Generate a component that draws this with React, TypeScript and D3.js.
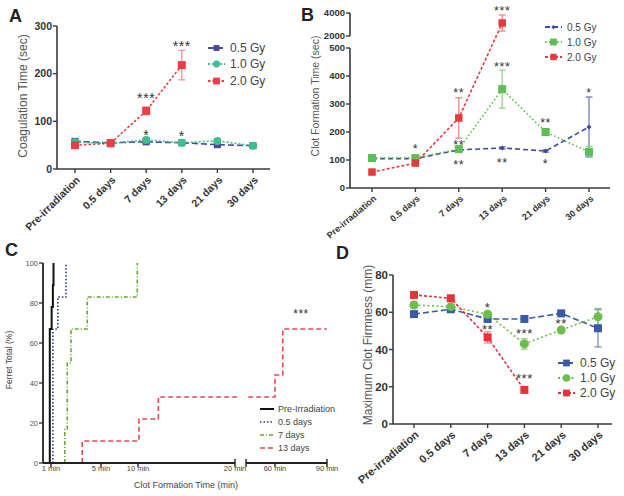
import React from "react";
import * as d3 from "d3";

// ---------- shared categories ----------
const categories = ["Pre-irradiation", "0.5 days", "7 days", "13 days", "21 days", "30 days"];
const doseLabels = ["0.5 Gy", "1.0 Gy", "2.0 Gy"];

// ---------- Panel A: Coagulation time (sec) ----------
const coagA05 = [58, 55, 57, 55, 51, 49];
const coagA10 = [56, 54, 61, 55, 59, 49];
const coagA20 = [50, 54, 122, 218, null, null];
const coagErr05 = [3, 2, 3, 2, 3, 2];
const coagErr10 = [3, 2, 4, 2, 4, 2];
const coagErr20 = [3, 3, 8, 31, 0, 0];
const yTicksA = [0, 100, 200, 300];
const starsA = [
  { cat: "7 days", v: 155, t: "***" },
  { cat: "13 days", v: 264, t: "***" },
  { cat: "7 days", v: 78, t: "*" },
  { cat: "13 days", v: 76, t: "*" },
];

// ---------- Panel B: Clot formation time (sec) ----------
const cftB05 = [105, 105, 136, 143, 132, 218];
const cftB10 = [107, 107, 139, 353, 200, 129];
const cftB20 = [57, 89, 250, 3130, null, null];
const cftErr05 = [3, 3, 4, 4, 4, 107];
const cftErr10 = [4, 4, 8, 68, 6, 20];
const cftErr20 = [4, 5, 72, 700, 0, 0];
const yTicksBLow = [0, 100, 200, 300, 400, 500];
const yTicksBHigh = [2000, 4000];
const starsB = [
  { cat: "0.5 days", v: 150, t: "*" },
  { cat: "7 days", v: 350, t: "**" },
  { cat: "7 days", v: 164, t: "**" },
  { cat: "7 days", v: 93, t: "**" },
  { cat: "13 days", v: 4500, t: "***" },
  { cat: "13 days", v: 443, t: "***" },
  { cat: "13 days", v: 100, t: "**" },
  { cat: "21 days", v: 243, t: "**" },
  { cat: "21 days", v: 96, t: "*" },
  { cat: "30 days", v: 350, t: "*" },
];

// ---------- Panel C: Kaplan-Meier style steps (minutes, % ferrets) ----------
const survLabels = ["Pre-Irradiation", "0.5 days", "7 days", "13 days"];
const stepsPre: [number, number][] = [[0.85, 0], [0.85, 67], [1.05, 78], [1.15, 89], [1.2, 100]];
const steps05: [number, number][] = [[1.15, 0], [1.15, 67], [1.55, 83], [2.2, 100]];
const steps7: [number, number][] = [[2.1, 0], [2.1, 17], [2.3, 50], [2.6, 67], [3.9, 83], [9.9, 100]];
const steps13: [number, number][] = [[3.5, 0], [3.5, 11], [10.1, 22], [12.1, 33], [60, 44], [64.5, 67], [90, 67]];
const yTicksC = [0, 20, 40, 60, 80, 100];
const xTicksC1 = [1, 5, 10, 20];
const xTicksC2 = [60, 90];
const starsC = [{ t: 75, v: 76, s: "***" }];

// ---------- Panel D: Maximum clot firmness (mm) ----------
const mcfD05 = [59, 61.6, 56.4, 56.4, 59.4, 51.4];
const mcfD10 = [63.9, 63, 58.9, 43, 50.5, 57.6];
const mcfD20 = [69.3, 67.5, 46.5, 18.3, null, null];
const mcfErr05 = [1.5, 1, 1.5, 1, 1, 10];
const mcfErr10 = [1.5, 1, 1.5, 2.8, 1, 4.5];
const mcfErr20 = [1, 1, 3, 1, 0, 0];
const yTicksD = [0, 20, 40, 60, 80];
const starsD = [
  { cat: "7 days", v: 64, t: "*" },
  { cat: "7 days", v: 52.6, t: "**" },
  { cat: "13 days", v: 50, t: "***" },
  { cat: "13 days", v: 26.3, t: "***" },
  { cat: "21 days", v: 55.5, t: "**" },
];

const FONT = "'Liberation Sans', Arial, Helvetica, sans-serif";

type Series = {
  values: (number | null)[];
  err: number[];
  color: string;
  errColor: string;
  dash: string;
  marker: "square" | "circle" | "dot";
  size: number;
  label: string;
};

function Marker({ kind, cx, cy, size, color }: { kind: string; cx: number; cy: number; size: number; color: string }) {
  if (kind === "circle") return <circle cx={cx} cy={cy} r={size / 2} fill={color} />;
  if (kind === "dot")
    return <path d={`M${cx},${cy - size / 2}L${cx + size / 2},${cy}L${cx},${cy + size / 2}L${cx - size / 2},${cy}Z`} fill={color} />;
  return <rect x={cx - size / 2} y={cy - size / 2} width={size} height={size} fill={color} />;
}

type CatCfg = {
  axisX: number;
  xEnd: number;
  yBase: number;
  xRange: [number, number];
  y: (v: number) => number;
  ySegments: [number, number][];
  yTicks: number[];
  tickFont: number;
  xFont: number;
  xAngle: number;
  title: string;
  titleX: number;
  titleY: number;
  titleFont: number;
  series: Series[];
  stars: { cat: string; v: number; t: string }[];
  starFont: number;
  legendX: number;
  legendYs: number[];
  legendFont: number;
  letter: string;
  letterX: number;
  letterY: number;
};

function CatPanel({ c }: { c: CatCfg }) {
  const x = d3.scalePoint<string>().domain(categories).range(c.xRange);
  const axisColor = "#3a3a3a";
  return (
    <g fontFamily={FONT}>
      <text x={c.letterX} y={c.letterY} fontSize={18} fontWeight="bold" fill="#222">{c.letter}</text>
      {/* y axis */}
      {c.ySegments.map((s, i) => (
        <line key={"ys" + i} x1={c.axisX} x2={c.axisX} y1={c.y(s[0])} y2={c.y(s[1])} stroke={axisColor} strokeWidth={1.6} />
      ))}
      {c.yTicks.map((t) => (
        <g key={"yt" + t}>
          <line x1={c.axisX - 4} x2={c.axisX} y1={c.y(t)} y2={c.y(t)} stroke={axisColor} strokeWidth={1.4} />
          <text x={c.axisX - 5} y={c.y(t)} dy="0.35em" textAnchor="end" fontSize={c.tickFont} fontWeight="bold" fill="#333">{t}</text>
        </g>
      ))}
      {/* x axis */}
      <line x1={c.axisX} x2={c.xEnd} y1={c.yBase} y2={c.yBase} stroke={axisColor} strokeWidth={1.6} />
      {categories.map((cat) => (
        <g key={"xt" + cat}>
          <line x1={x(cat)} x2={x(cat)} y1={c.yBase} y2={c.yBase + 4} stroke={axisColor} strokeWidth={1.4} />
          <text
            transform={`translate(${(x(cat) as number) + 3},${c.yBase + 9}) rotate(${c.xAngle})`}
            textAnchor="end"
            dy="0.35em"
            fontSize={c.xFont}
            fontWeight="bold"
            fill="#333"
          >
            {cat}
          </text>
        </g>
      ))}
      {/* y title */}
      <text transform={`translate(${c.titleX},${c.titleY}) rotate(-90)`} textAnchor="middle" dy="0.35em" fontSize={c.titleFont} fill="#555">
        {c.title}
      </text>
      {/* series lines */}
      {c.series.map((s, si) => {
        const pts = s.values.map((v, i) => ({ v, cat: categories[i] }));
        const line = d3
          .line<{ v: number | null; cat: string }>()
          .defined((d) => d.v != null)
          .x((d) => x(d.cat) as number)
          .y((d) => c.y(d.v as number));
        return <path key={"l" + si} d={line(pts) || ""} fill="none" stroke={s.color} strokeWidth={1.6} strokeDasharray={s.dash} />;
      })}
      {/* error bars */}
      {c.series.map((s, si) =>
        s.values.map((v, i) => {
          if (v == null || !s.err[i]) return null;
          const cx = x(categories[i]) as number;
          const y1 = c.y(v + s.err[i]);
          const y2 = c.y(v - s.err[i]);
          return (
            <g key={"e" + si + "-" + i} stroke={s.errColor} strokeWidth={1.2}>
              <line x1={cx} x2={cx} y1={y1} y2={y2} />
              <line x1={cx - 3.5} x2={cx + 3.5} y1={y1} y2={y1} />
              <line x1={cx - 3.5} x2={cx + 3.5} y1={y2} y2={y2} />
            </g>
          );
        })
      )}
      {/* markers */}
      {c.series.map((s, si) =>
        s.values.map((v, i) =>
          v == null ? null : (
            <Marker key={"m" + si + "-" + i} kind={s.marker} cx={x(categories[i]) as number} cy={c.y(v)} size={s.size} color={s.color} />
          )
        )
      )}
      {/* significance stars */}
      {c.stars.map((st, i) => (
        <text key={"s" + i} x={x(st.cat) as number} y={c.y(st.v) + c.starFont * 0.58} textAnchor="middle" fontSize={c.starFont} letterSpacing={0.6} fill="#333">
          {st.t}
        </text>
      ))}
      {/* legend */}
      {c.series.map((s, si) => (
        <g key={"lg" + si}>
          <line x1={c.legendX} x2={c.legendX + 17} y1={c.legendYs[si]} y2={c.legendYs[si]} stroke={s.color} strokeWidth={1.8} strokeDasharray={s.dash} />
          <Marker kind={s.marker} cx={c.legendX + 8.5} cy={c.legendYs[si]} size={s.size * 0.85} color={s.color} />
          <text x={c.legendX + 22} y={c.legendYs[si]} dy="0.35em" fontSize={c.legendFont} fill="#444">{s.label}</text>
        </g>
      ))}
    </g>
  );
}

// ---------- Panel C ----------
function PanelC() {
  const axisX = 43;
  const yBase = 463;
  const y = d3.scaleLinear().domain([0, 100]).range([463, 263]);
  const x1 = d3.scaleLinear().domain([0, 1, 5, 10, 20]).range([43, 51, 101, 138, 235]);
  const x2 = d3.scaleLinear().domain([43.3, 90]).range([246, 327]);
  const xs = (t: number) => (t <= 20 ? x1(t) : x2(t));
  const line = d3
    .line<[number, number]>()
    .x((d) => xs(d[0]))
    .y((d) => y(d[1]))
    .curve(d3.curveStepAfter);
  const series = [
    { data: stepsPre, color: "#111", dash: "", w: 2 },
    { data: steps05, color: "#2a3580", dash: "1.5,2", w: 1.6 },
    { data: steps7, color: "#6aa733", dash: "4,2,1,2", w: 1.6 },
    { data: steps13, color: "#e44a55", dash: "5,3", w: 1.6 },
  ];
  const legendYs = [409, 422, 435, 448];
  return (
    <g fontFamily={FONT}>
      <text x={5} y={256} fontSize={18} fontWeight="bold" fill="#222">C</text>
      {series.map((s, i) => (
        <path key={"c" + i} d={line(s.data) || ""} fill="none" stroke={s.color} strokeWidth={s.w} strokeDasharray={s.dash} />
      ))}
      {/* axis break mask */}
      <rect x={238} y={255} width={7} height={212} fill="#fff" />
      {/* y axis */}
      <line x1={axisX} x2={axisX} y1={y(0)} y2={y(100)} stroke="#222" strokeWidth={1.8} />
      {yTicksC.map((t) => (
        <g key={"cy" + t}>
          <line x1={axisX - 4} x2={axisX} y1={y(t)} y2={y(t)} stroke="#222" strokeWidth={1.2} />
          <text x={axisX - 5} y={y(t)} dy="0.35em" textAnchor="end" fontSize={7.5} fill="#555">{t}</text>
        </g>
      ))}
      {/* x axis two segments */}
      <line x1={axisX} x2={235} y1={yBase} y2={yBase} stroke="#222" strokeWidth={1.8} />
      <line x1={246} x2={327} y1={yBase} y2={yBase} stroke="#222" strokeWidth={1.8} />
      <line x1={246} x2={246} y1={yBase - 4} y2={yBase + 4} stroke="#222" strokeWidth={1.4} />
      {xTicksC1.map((t) => (
        <g key={"cx1" + t}>
          <line x1={x1(t)} x2={x1(t)} y1={yBase - (t === 20 ? 4 : 0)} y2={yBase + 4} stroke="#222" strokeWidth={1.4} />
          <text x={x1(t)} y={471} textAnchor="middle" fontSize={7.5} fill="#444">{t} min</text>
        </g>
      ))}
      {xTicksC2.map((t) => (
        <g key={"cx2" + t}>
          <line x1={x2(t)} x2={x2(t)} y1={yBase - (t === 90 ? 4 : 0)} y2={yBase + 4} stroke="#222" strokeWidth={1.4} />
          <text x={x2(t)} y={471} textAnchor="middle" fontSize={7.5} fill="#444">{t} min</text>
        </g>
      ))}
      <text x={186} y={488} textAnchor="middle" fontSize={9} fill="#444">Clot Formation Time (min)</text>
      <text transform="translate(9,360) rotate(-90)" textAnchor="middle" dy="0.35em" fontSize={8.5} fill="#444">Ferret Total (%)</text>
      {starsC.map((s, i) => (
        <text key={"sc" + i} x={xs(s.t)} y={y(s.v) + 7} textAnchor="middle" fontSize={12} letterSpacing={0.5} fill="#333">{s.s}</text>
      ))}
      {series.map((s, i) => (
        <g key={"cl" + i}>
          <line x1={260} x2={274} y1={legendYs[i]} y2={legendYs[i]} stroke={s.color} strokeWidth={s.w} strokeDasharray={s.dash} />
          <text x={278} y={legendYs[i]} dy="0.35em" fontSize={9} fill="#444">{survLabels[i]}</text>
        </g>
      ))}
    </g>
  );
}

export default function App() {
  // Panel A
  const yA = d3.scaleLinear().domain([0, 300]).range([169, 26]);
  const cfgA: CatCfg = {
    axisX: 57, xEnd: 270, yBase: 169, xRange: [75, 253], y: yA, ySegments: [[0, 300]], yTicks: yTicksA,
    tickFont: 10.5, xFont: 10.5, xAngle: -45,
    title: "Coagulation Time (sec)", titleX: 23, titleY: 96, titleFont: 12,
    series: [
      { values: coagA05, err: coagErr05, color: "#4b4a9e", errColor: "#4b4a9e", dash: "6,3", marker: "square", size: 7, label: doseLabels[0] },
      { values: coagA10, err: coagErr10, color: "#3dbf8e", errColor: "#3dbf8e", dash: "2,2", marker: "circle", size: 8, label: doseLabels[1] },
      { values: coagA20, err: coagErr20, color: "#ec3d47", errColor: "#ef8a8f", dash: "2.5,2", marker: "square", size: 8, label: doseLabels[2] },
    ],
    stars: starsA, starFont: 14,
    legendX: 208, legendYs: [48, 64, 81], legendFont: 12,
    letter: "A", letterX: 9, letterY: 22,
  };

  // Panel B (broken y axis)
  const yBLow = d3.scaleLinear().domain([0, 500]).range([188, 48]);
  const yBHigh = d3.scaleLinear().domain([2000, 4000]).range([36, 13]);
  const yB = (v: number) => (v <= 1000 ? yBLow(v) : yBHigh(v));
  const cfgB: CatCfg = {
    axisX: 350, xEnd: 610, yBase: 188, xRange: [372, 589], y: yB, ySegments: [[0, 500], [2000, 4000]],
    yTicks: [...yTicksBLow, ...yTicksBHigh],
    tickFont: 9.5, xFont: 9, xAngle: -40,
    title: "Clot Formation Time (sec)", titleX: 315, titleY: 96, titleFont: 10.5,
    series: [
      { values: cftB05, err: cftErr05, color: "#3d4a9c", errColor: "#6b74b4", dash: "5,3", marker: "dot", size: 5, label: doseLabels[0] },
      { values: cftB10, err: cftErr10, color: "#5cbf52", errColor: "#8fd186", dash: "1.6,2.4", marker: "square", size: 8, label: doseLabels[1] },
      { values: cftB20, err: cftErr20, color: "#e63b3e", errColor: "#ef7c7e", dash: "3,2", marker: "square", size: 7.5, label: doseLabels[2] },
    ],
    stars: starsB, starFont: 12.5,
    legendX: 545, legendYs: [27, 42, 57], legendFont: 10,
    letter: "B", letterX: 301, letterY: 21,
  };

  // Panel D
  const yD = d3.scaleLinear().domain([0, 80]).range([424, 275]);
  const cfgD: CatCfg = {
    axisX: 393, xEnd: 612, yBase: 424, xRange: [414, 598], y: yD, ySegments: [[0, 80]], yTicks: yTicksD,
    tickFont: 11.5, xFont: 11, xAngle: -40,
    title: "Maximum Clot Firmness (mm)", titleX: 368, titleY: 345, titleFont: 12,
    series: [
      { values: mcfD05, err: mcfErr05, color: "#3a5aa8", errColor: "#6d84bf", dash: "6,3", marker: "square", size: 8, label: doseLabels[0] },
      { values: mcfD10, err: mcfErr10, color: "#6cbf4a", errColor: "#8fce78", dash: "2,2.5", marker: "circle", size: 9, label: doseLabels[1] },
      { values: mcfD20, err: mcfErr20, color: "#e8313c", errColor: "#ef7f86", dash: "3,2", marker: "square", size: 8, label: doseLabels[2] },
    ],
    stars: starsD, starFont: 13,
    legendX: 558, legendYs: [363, 378, 393], legendFont: 12,
    letter: "D", letterX: 336, letterY: 259,
  };

  return (
    <svg width={624} height={496} viewBox="0 0 624 496" style={{ position: "absolute", left: 0, top: 0, background: "#fff" }}>
      <rect width={624} height={496} fill="#fff" />
      <CatPanel c={cfgA} />
      <CatPanel c={cfgB} />
      <PanelC />
      <CatPanel c={cfgD} />
    </svg>
  );
}
